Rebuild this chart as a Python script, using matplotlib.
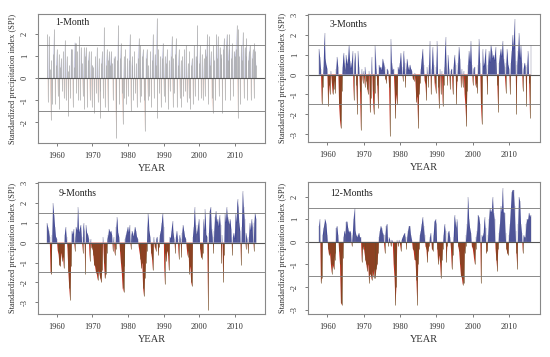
import numpy as np
import matplotlib
matplotlib.use('Agg')
import matplotlib.pyplot as plt

# quarterly SPI values, one row per year (1957 ... 2015)
start_year = 1957.25
decades = [1960, 1970, 1980, 1990, 2000, 2010]

spi_1m = [
    2.0, -1.1, 1.9, 0.4,   -1.9, 0.8, -1.2, 1.1,   2.2, -1.2, 0.6, 1.3,
    -0.8, 1.1, -1.4, 0.5,  0.9, -0.6, 1.2, -0.9,   1.7, -1.0, 1.0, 0.3,
    -1.7, 0.6, -0.9, 1.3,  1.3, -1.3, 0.5, 1.6,    1.6, -0.7, 1.2, -1.0,
    1.9, -1.0, 1.4, 0.7,   -0.8, 1.4, -1.4, 1.0,   1.4, -1.3, 0.8, 1.2,
    -1.0, 1.2, -1.3, 0.6,  0.5, -1.6, 1.0, -0.7,   1.4, -1.1, 0.9, -0.6,
    -1.8, 0.7, 1.2, -0.9,  2.3, -1.3, 0.6, 1.3,    -1.5, 0.8, 1.2, 0.6,
    1.2, 0.7, -1.0, 0.9,   1.0, -1.4, -2.7, 0.8,   2.4, -1.2, 0.9, 1.6,
    -0.7, -2.1, 1.0, -0.9, 1.3, -1.2, 0.9, -0.8,   0.8, 2.0, -1.5, 0.6,
    1.0, -1.0, 1.2, -0.7,  0.7, -1.3, 0.9, 1.8,    -1.1, 1.5, -0.8, 1.0,
    1.3, -1.0, -2.4, 0.9,  1.3, -1.0, 0.6, -0.8,   1.2, -1.3, 0.8, 2.0,
    -0.9, 1.1, 0.6, 2.7,   -1.8, 1.3, -0.7, 1.0,   -1.3, 0.9, 1.6, -0.8,
    1.0, -1.1, 0.7, 1.3,   -1.4, 0.8, -0.6, 1.0,   1.9, -1.3, 0.9, -0.7,
    1.1, 1.8, -1.3, 0.6,   1.3, -0.9, 0.8, -1.3,   1.0, -0.8, 1.3, -0.6,
    1.5, -1.1, 0.7, -0.9,  1.2, -1.4, 0.6, 0.9,    -1.2, 1.5, -0.8, 1.0,
    0.8, 2.4, -1.0, 0.7,   1.5, -0.9, 1.1, -1.0,   0.9, -0.8, 1.3, 1.0,
    2.0, -1.2, 1.9, 0.6,   1.2, -0.9, -1.6, 1.5,   0.8, -1.0, 2.0, 0.9,
    1.9, -0.8, 1.4, 1.1,   0.9, -1.6, 1.3, 1.8,    -1.0, 1.5, 2.0, 0.8,
    1.3, 2.0, -1.0, 0.9,   1.6, -0.8, 1.2, 1.0,    1.3, 2.4, -1.8, 2.2,
    1.0, -1.2, 1.5, 0.8,   2.1, -0.9, 1.4, 1.0,    1.8, -1.0, 0.8, 1.2,
    1.5, -1.0, 0.9, 1.3,   -0.9, 1.6, 1.2, 0.6,
]

spi_3m = [
    np.nan, np.nan, 1.3, 0.9,  0.3, -1.5, -0.6, 0.4,   2.1, 0.8, 0.5, 0.3,
    -1.6, -0.5, -1.0, 0.2,     -0.4, -1.0, -0.7, -0.3, -0.9, 0.3, 0.9, 0.4,
    -1.5, -2.3, -2.7, -0.8,    0.4, 1.1, 0.6, 0.2,     1.0, 0.5, 0.8, 1.5,
    0.7, 0.3, 0.6, 1.2,        -1.3, 0.6, 1.1, -0.5,   -2.0, 1.2, 0.4, -0.8,
    -2.8, 0.3, -0.4, 0.2,      -0.6, 0.4, -0.3, -0.7,  -1.0, 0.2, -1.9, -1.2,
    0.9, -0.8, -2.0, -0.9,     1.5, 0.3, -0.5, -1.7,   0.5, 0.3, 0.4, 0.2,
    0.8, 0.6, 0.4, -0.2,       -0.4, 0.3, 0.2, -0.6,   -3.1, 1.8, 0.6, 0.2,
    0.3, -0.8, -2.2, -1.0,     -1.5, 0.4, 0.2, 0.6,    1.1, 0.4, -0.3, 1.2,
    0.6, -0.6, 0.3, 0.8,       0.4, 0.2, 0.5, 0.3,     0.2, -0.2, -0.3, 0.1,
    -0.4, -1.4, -1.1, -2.7,    -1.0, -0.4, 0.3, 0.8,   1.3, 0.5, -0.3, -0.5,
    -1.3, 0.4, -0.6, 0.5,      1.7, -1.0, 0.3, 1.4,    0.5, -0.4, -0.9, 0.4,
    1.7, -0.6, -1.7, 0.3,      -1.0, 0.2, -1.6, -0.5,  0.4, 1.9, 0.6, -0.5,
    1.0, 0.3, -0.7, 0.2,       0.3, -1.0, 0.4, 1.0,    0.5, -1.5, -0.3, 0.6,
    1.4, 0.8, -0.6, 0.3,       -0.6, 0.2, -1.0, -1.6,  -2.6, -0.8, 0.5, 1.2,
    0.6, 1.7, 0.5, -0.5,       0.3, 0.4, -0.6, -0.4,   -0.9, 0.5, 1.8, 0.6,
    -1.5, -2.5, 1.3, 0.4,      0.6, 1.3, 0.3, -1.0,    0.5, 1.2, 0.6, 1.5,
    1.2, 0.8, 1.0, 0.7,        1.4, 0.6, -0.5, -1.9,   0.6, 1.0, 1.3, 0.9,
    1.7, 0.8, 0.4, -0.9,       0.6, 1.3, 0.5, 0.3,     -1.0, 0.6, 1.2, 2.0,
    1.3, 2.8, 0.7, -2.0,       0.5, 1.2, 2.1, 0.8,     1.5, 0.6, -0.8, 0.3,
    0.6, 0.4, -1.6, 0.5,       1.2, -0.4, -2.2, 1.5,
]

spi_9m = [
    1.0, 0.8, 0.6, 0.3,     -1.5, -1.6, 0.4, 2.0,    1.4, 0.8, 0.3, 0.2,
    -0.4, -0.6, -1.1, -1.2, -0.5, -0.9, -0.7, -1.3,  0.4, 0.8, 0.3, -0.3,
    -1.5, -2.3, -2.9, -1.2, 0.6, 0.4, 0.7, -0.4,     0.3, 0.8, 0.6, 1.8,
    0.5, 0.7, 0.9, 0.3,     -0.5, 1.0, 0.6, -1.6,    0.9, 0.5, 0.4, 0.2,
    -0.9, 0.2, -0.3, -0.2,  -0.6, -1.1, -1.2, -1.5,  -1.6, -1.9, -1.4, -1.6,
    -1.8, -2.0, -1.4, 0.3,  -1.0, -1.8, -1.6, -0.5,  0.2, 0.4, 0.7, 0.5,
    0.6, 0.4, -0.4, 0.3,    -0.6, -0.3, 0.8, 1.3,    0.5, 0.3, -0.4, -1.0,
    -1.5, -2.3, -2.5, -1.2, 0.2, 0.4, 0.6, 0.8,      0.5, 0.9, -0.3, 0.4,
    0.6, 0.3, 0.5, 0.8,     0.6, 0.3, 0.2, -0.2,     -0.5, -0.8, -1.3, -1.0,
    -2.3, -2.7, -1.8, -1.0, -0.4, 0.8, 1.5, 0.6,     0.3, -0.5, -0.8, -1.4,
    0.3, -0.2, -0.4, 0.2,   0.3, -0.6, -0.2, 0.4,    0.6, 1.0, 1.5, 0.8,
    -2.1, -0.5, -0.9, -0.4, -0.6, -1.4, 0.3, 0.2,    0.6, 1.1, 0.5, 0.2,
    -0.5, 0.3, 0.6, 0.2,    -0.8, 0.4, 0.2, -0.7,    0.5, 0.9, 0.6, 0.3,
    0.2, -0.3, -0.7, -0.4,  -1.6, -1.2, -2.0, -2.2,  0.3, 0.8, 1.8, 0.9,
    0.4, 0.6, 0.9, 1.2,     -0.3, -0.7, -0.8, -0.5,  1.2, 0.6, 1.7, 0.4,
    0.3, -3.4, 0.5, 1.6,    1.8, 0.7, 0.3, -0.5,     0.6, 1.3, 1.6, 1.0,
    1.2, 0.8, 1.4, 0.9,     -1.0, 0.4, -2.0, -0.6,   1.5, 1.0, 1.8, 1.3,
    1.1, 0.9, 1.2, 0.7,     -0.6, 0.3, 0.5, 0.2,     1.5, 1.0, 2.2, 1.8,
    1.0, 0.6, -1.1, 0.8,    2.6, 1.8, 1.2, -0.3,     0.5, 0.2, -0.5, 0.3,
    1.0, 0.6, 1.2, 0.8,     -0.4, 1.0, 1.5, 1.2,
]

spi_12m = [
    np.nan, np.nan, 0.7, 1.0,  -1.8, -1.6, 0.3, 0.6,   0.8, 1.0, 0.8, 0.3,
    -0.3, -0.6, -0.5, -1.0,    -1.4, -1.0, -1.2, -0.8, -0.5, 0.6, 0.7, 0.3,
    -0.4, -1.0, -2.7, -2.8,    -0.7, 0.2, 0.5, 0.3,    0.9, 0.9, 0.6, 0.4,
    0.5, 0.4, -0.2, 0.3,       1.0, 1.5, 0.5, 0.3,     0.2, 0.3, 0.4, 0.2,
    0.2, -0.9, -0.3, -0.2,     -0.5, -0.8, -1.0, -1.3, -1.0, -1.8, -1.4, -1.5,
    -1.7, -1.3, -1.6, -1.2,    -1.6, -1.2, -1.0, -0.5, 0.2, 0.5, 0.7, 0.6,
    0.4, 0.3, -0.5, 0.3,       0.7, 0.8, -0.2, 0.2,    0.1, -0.2, 0.1, 0.0,
    -1.0, -1.6, -2.8, -2.0,    0.1, -0.2, 0.1, -0.1,   -0.4, 0.1, 0.2, 0.3,
    0.4, 0.2, -0.3, 0.2,       0.5, 0.7, 0.7, 0.3,     0.1, -0.3, -0.4, -0.8,
    -0.8, -1.7, -2.8, -1.0,    -0.3, 0.3, 0.5, 0.8,    1.1, 0.7, 0.3, -0.2,
    -0.3, -0.9, -0.4, -0.2,    0.2, 0.4, -0.3, -0.4,   0.3, 0.9, 1.0, 0.8,
    -0.3, -1.0, -0.6, -0.9,    -1.6, -0.8, -0.3, 0.3,  0.8, 0.5, -0.9, -0.2,
    0.4, 0.5, 0.2, -0.3,       -1.2, -0.6, 0.2, 1.2,   0.9, 0.6, 1.0, -0.2,
    -0.4, -1.0, -1.5, -1.6,    -1.9, -1.8, -0.5, -0.2, 0.3, 0.8, 2.0, 1.0,
    0.6, 0.4, -0.2, -0.3,      -0.6, -1.0, -0.3, 0.2,  0.5, 1.2, 1.1, 0.8,
    -1.8, 0.3, 0.2, 0.4,       1.1, 0.6, -0.5, -0.4,   0.3, 1.0, 1.5, 1.3,
    1.4, 2.0, 1.3, 1.0,        -0.3, -0.8, -1.3, -0.3, 0.4, 0.8, 1.6, 1.3,
    2.4, 1.3, 1.3, 0.4,        -0.3, -0.5, -0.6, 0.3,  0.8, 1.5, 2.2, 2.3,
    2.3, 1.6, 0.5, -0.5,       -1.2, 0.8, 2.0, 1.8,    0.8, 0.4, -0.5, 0.3,
    0.2, 0.2, 0.8, 1.0,        1.0, 1.3, 1.1, 1.2,
]

titles = ['1-Month', '3-Months', '9-Months', '12-Months']
series = [spi_1m, spi_3m, spi_9m, spi_12m]
ylims = [(-2.95, 2.9), (-3.38, 3.03), (-3.6, 3.05), (-3.2, 2.65)]
title_pos = [(0.075, 0.93), (0.095, 0.92), (0.093, 0.917), (0.095, 0.91)]

plt.rcParams['font.family'] = ['Liberation Serif', 'DejaVu Serif']

fig = plt.figure(figsize=(5.5, 3.57), dpi=100)
boxes = [
    [0.069, 0.599, 0.413, 0.362],
    [0.560, 0.602, 0.422, 0.359],
    [0.069, 0.120, 0.413, 0.370],
    [0.560, 0.120, 0.422, 0.370],
]

for i in range(4):
    ax = fig.add_axes(boxes[i])
    v = np.array(series[i], dtype=float)
    t = start_year + np.arange(len(v)) / 4
    ok = ~np.isnan(v)
    pos = ok & (v >= 0)
    neg = ok & (v < 0)
    if i == 0:
        # 1-month: mostly thin grey spikes with a faint fill
        ax.fill_between(t, 0, v, where=v >= 0, interpolate=True,
                        color='#3a3f95', alpha=0.25, lw=0)
        ax.fill_between(t, 0, v, where=v <= 0, interpolate=True,
                        color='#b04a2a', alpha=0.25, lw=0)
        ax.vlines(t[ok], 0, v[ok], color='#a6a6a6', lw=0.5)
    else:
        ax.fill_between(t, 0, v, where=v >= 0, interpolate=True,
                        color='#353d97', lw=0)
        ax.fill_between(t, 0, v, where=v <= 0, interpolate=True,
                        color='#c0301f', lw=0)
        ax.vlines(t[pos], 0, v[pos], color='#7d7f9a', lw=0.3)
        ax.vlines(t[neg], 0, v[neg], color='#6e4c24', lw=0.45)

    ax.axhline(0, color='#555555', lw=0.8)
    ax.axhline(1.5, color='#777777', lw=0.6)
    ax.axhline(-1.5, color='#777777', lw=0.6)

    ax.set_xlim(1954.7, 2018.5)
    ax.set_ylim(*ylims[i])
    ax.set_xticks(decades)
    yt = np.arange(np.ceil(ylims[i][0]), np.floor(ylims[i][1]) + 1)
    ax.set_yticks(yt)
    ax.set_yticklabels([str(int(y)) for y in yt], rotation=90, va='center')
    ax.tick_params(labelsize=6, length=2.5, width=0.6, color='#666666',
                   labelcolor='#333333', pad=4)
    for s in ax.spines.values():
        s.set_color('#888888')
        s.set_linewidth(0.8)

    ax.text(title_pos[i][0], title_pos[i][1], titles[i],
            transform=ax.transAxes, fontsize=7, color='#222222', va='center')
    ax.set_xlabel('YEAR', fontsize=7.5, color='#333333', labelpad=3)
    ax.set_ylabel('Standardized precipitation index (SPI)', fontsize=6,
                  color='#333333', labelpad=3)

fig.savefig('out.png', dpi=100)
